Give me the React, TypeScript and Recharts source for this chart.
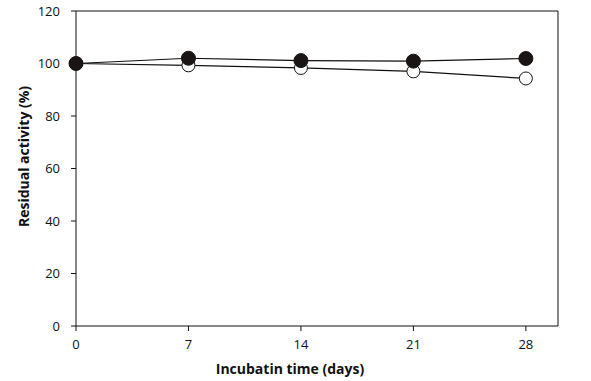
import { LineChart, Line, XAxis, YAxis, ReferenceLine, Label } from 'recharts'

const days = [0, 7, 14, 21, 28]
const closedSeries = [100, 102.0, 101.1, 100.9, 101.9]
const openSeries = [100, 99.3, 98.3, 97.0, 94.3]
const xTicks = [0, 7, 14, 21, 28]
const yTicks = [0, 20, 40, 60, 80, 100, 120]

const data = days.map((d, i) => ({ day: d, closed: closedSeries[i], open: openSeries[i] }))

const font = '"Open Sans", sans-serif'
const tickStyle = { fontSize: 13, fill: '#111', fontFamily: font }

export default function App() {
  return (
    <div style={{ position: 'absolute', left: 0, top: 0, width: 591, height: 381, background: '#fff' }}>
      <LineChart width={591} height={381} data={data} margin={{ top: 11, right: 33, left: 0, bottom: 0 }}>
        <XAxis
          dataKey="day" type="number" domain={[0, 30]} ticks={xTicks}
          height={55} tickSize={5} tickMargin={9}
          stroke="#111" tick={tickStyle} tickLine={{ stroke: '#111' }}
        >
          <Label value="Incubatin time (days)" position="insideBottom" offset={7} dx={-27}
            style={{ fontSize: 14, fontWeight: 700, fill: '#111', fontFamily: font }} />
        </XAxis>
        <YAxis
          type="number" domain={[0, 120]} ticks={yTicks} width={76}
          tickSize={5} tickMargin={11}
          stroke="#111" tick={tickStyle} tickLine={{ stroke: '#111' }}
        >
          <Label value="Residual activity (%)" angle={-90} position="insideLeft" offset={24} dy={-12}
            style={{ fontSize: 14, fontWeight: 700, fill: '#111', fontFamily: font, textAnchor: 'middle' }} />
        </YAxis>
        <ReferenceLine y={120} stroke="#111" />
        <ReferenceLine x={30} stroke="#111" />
        <Line dataKey="open" stroke="#111" strokeWidth={1.2} isAnimationActive={false}
          dot={{ r: 6.5, fill: '#fff', stroke: '#111', strokeWidth: 1 }} />
        <Line dataKey="closed" stroke="#111" strokeWidth={1.2} isAnimationActive={false}
          dot={{ r: 7, fill: '#1a1414', stroke: '#1a1414', strokeWidth: 1 }} />
      </LineChart>
    </div>
  )
}
